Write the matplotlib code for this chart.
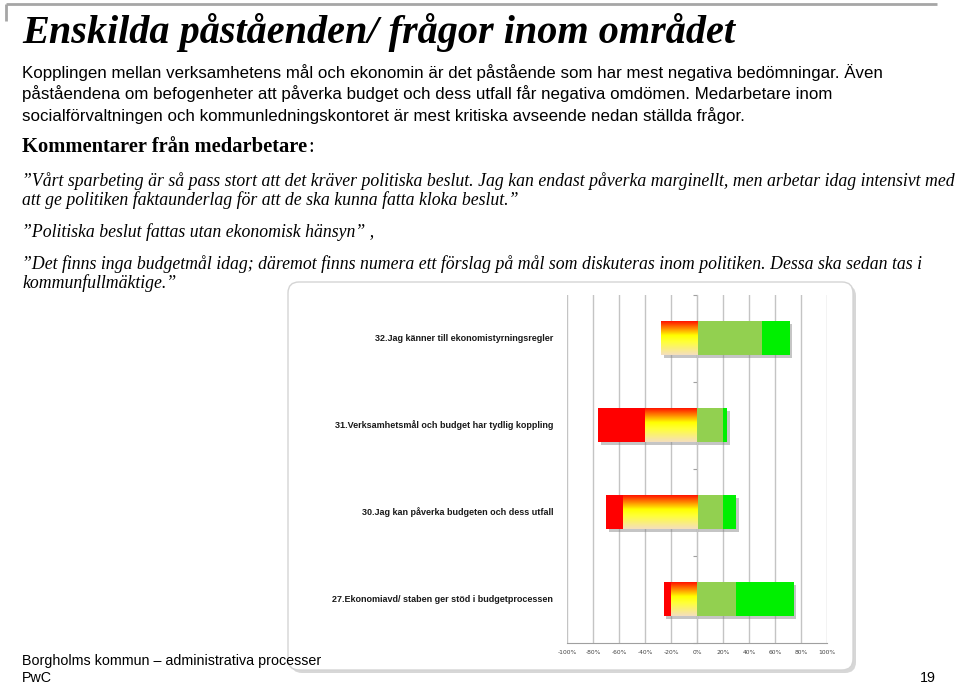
import numpy as np
import matplotlib
matplotlib.use('Agg')
import matplotlib.pyplot as plt
from matplotlib.patches import FancyBboxPatch
from matplotlib.colors import LinearSegmentedColormap
import matplotlib.patheffects as pe

# survey items, top to bottom
items = [
    '32.Jag känner till ekonomistyrningsregler',
    '31.Verksamhetsmål och budget har tydlig koppling',
    '30.Jag kan påverka budgeten och dess utfall',
    '27.Ekonomiavd/ staben ger stöd i budgetprocessen',
]
# share of answers in percent
strong_neg = [0, 36, 13, 6]
weak_neg = [28, 40, 57, 20]
weak_pos = [50, 20, 20, 30]
strong_pos = [21, 3, 10, 44]

xticks = list(range(-100, 101, 20))
xtick_labels = [f'{t}%' for t in xticks]

title = 'Enskilda påståenden/ frågor inom området'
body = [
    'Kopplingen mellan verksamhetens mål och ekonomin är det påstående som har mest negativa bedömningar. Även',
    'påståendena om befogenheter att påverka budget och dess utfall får negativa omdömen. Medarbetare inom',
    'socialförvaltningen och kommunledningskontoret är mest kritiska avseende nedan ställda frågor.',
]
quotes = [
    (186, '”Vårt sparbeting är så pass stort att det kräver politiska beslut. Jag kan endast påverka marginellt, men arbetar idag intensivt med'),
    (205, 'att ge politiken faktaunderlag för att de ska kunna fatta kloka beslut.”'),
    (237, '”Politiska beslut fattas utan ekonomisk hänsyn” ,'),
    (269, '”Det finns inga budgetmål idag; däremot finns numera ett förslag på mål som diskuteras inom politiken. Dessa ska sedan tas i'),
    (288, 'kommunfullmäktige.”'),
]

fig = plt.figure(figsize=(9.6, 6.84), dpi=100)

# page layer in pixel coordinates
bg = fig.add_axes([0, 0, 1, 1])
bg.set_xlim(0, 960)
bg.set_ylim(684, 0)
bg.axis('off')

bg.plot([6, 937], [4, 4], color='#a6a6a6', lw=2, solid_capstyle='butt')
bg.plot([6, 6], [4, 21], color='#a6a6a6', lw=2, solid_capstyle='butt')

serif = ['Liberation Serif', 'DejaVu Serif']
sans = ['Liberation Sans', 'DejaVu Sans']

bg.text(22, 43, title, fontsize=29, family=serif, weight='bold',
        style='italic', va='baseline')
for i, line in enumerate(body):
    bg.text(22, 78 + i * 21.3, line, fontsize=12.2, family=sans, va='baseline')
head = bg.text(22, 152, 'Kommentarer från medarbetare', fontsize=14.8, family=serif,
               weight='bold', va='baseline')
renderer = fig.canvas.get_renderer()
head_right = head.get_window_extent(renderer).x1
bg.text(head_right * 960 / fig.bbox.width + 1, 152, ':', fontsize=14.8,
        family=serif, va='baseline')
for y, line in quotes:
    bg.text(22, y, line, fontsize=12.75, family=serif, style='italic', va='baseline')

bg.text(22, 665, 'Borgholms kommun – administrativa processer', fontsize=10.3,
        family=sans, va='baseline')
bg.text(22, 682, 'PwC', fontsize=10.3, family=sans, va='baseline')
bg.text(936, 682, '19', fontsize=10.3, family=sans, va='baseline', ha='right')

# chart frame with soft shadow
shadow = FancyBboxPatch((291, 285), 565, 388, boxstyle='round,pad=0,rounding_size=11',
                        fc='#bdbdbd', ec='none', alpha=0.6)
bg.add_patch(shadow)
frame = FancyBboxPatch((288, 282), 565, 388, boxstyle='round,pad=0,rounding_size=11',
                       fc='white', ec='#d4d4d4', lw=1)
bg.add_patch(frame)

# the bar chart
ax = fig.add_axes([567.3 / 960, 1 - 642.8 / 684, 260 / 960, 348.3 / 684])
ax.set_facecolor('none')

y = np.arange(len(items))
h = 0.39
sn = np.array(strong_neg)
wn = np.array(weak_neg)
wp = np.array(weak_pos)
sp = np.array(strong_pos)

# drop shadow of whole bar
ax.barh(y, sn + wn + wp + sp, left=-(sn + wn), height=h, color='gray', zorder=2,
        path_effects=[pe.SimplePatchShadow(offset=(2, -2), shadow_rgbFace='#808080', alpha=0.45)])

ax.barh(y, sn, left=-(sn + wn), height=h, color='#ff0000', zorder=3)
ax.barh(y, wp, left=0, height=h, color='#92d050', zorder=3)
ax.barh(y, sp, left=wp, height=h, color='#00f000', zorder=3)

grad_cmap = LinearSegmentedColormap.from_list(
    'warm', [(0, '#ff1500'), (0.18, '#ff7a00'), (0.42, '#ffff00'),
             (0.62, '#ffff3a'), (1.0, '#f5dfbc')])
grad = grad_cmap(np.linspace(0, 1, 64))[:, None, :3]
for yi, w in zip(y, wn):
    if w > 0:
        ax.imshow(grad, extent=(-w, 0, yi + h / 2, yi - h / 2), origin='upper',
                  aspect='auto', zorder=3, interpolation='bilinear')

for yi, label in zip(y, items):
    ax.text(-0.054, yi, label, transform=ax.get_yaxis_transform(), ha='right',
            va='center', fontsize=6.5, weight='bold', color='#1a1a1a',
            family=sans)

ax.set_xlim(-100, 100)
ax.set_ylim(len(items) - 0.5, -0.5)
ax.set_xticks(xticks)
ax.set_xticklabels(xtick_labels, fontsize=4.3, color='#404040')
ax.tick_params(axis='x', length=0, pad=5)
ax.grid(axis='x', color='#c4c4c4', lw=1)
ax.set_axisbelow(True)

ax.set_yticks(np.arange(len(items) + 1) - 0.5)
ax.set_yticklabels([])
ax.tick_params(axis='y', length=3, color='#a0a0a0', direction='out')
ax.spines['left'].set_position(('data', 0))
ax.spines['left'].set_color('#c4c4c4')
ax.spines['bottom'].set_color('#a0a0a0')
ax.spines['top'].set_visible(False)
ax.spines['right'].set_visible(False)

fig.savefig('out.png', dpi=100)
